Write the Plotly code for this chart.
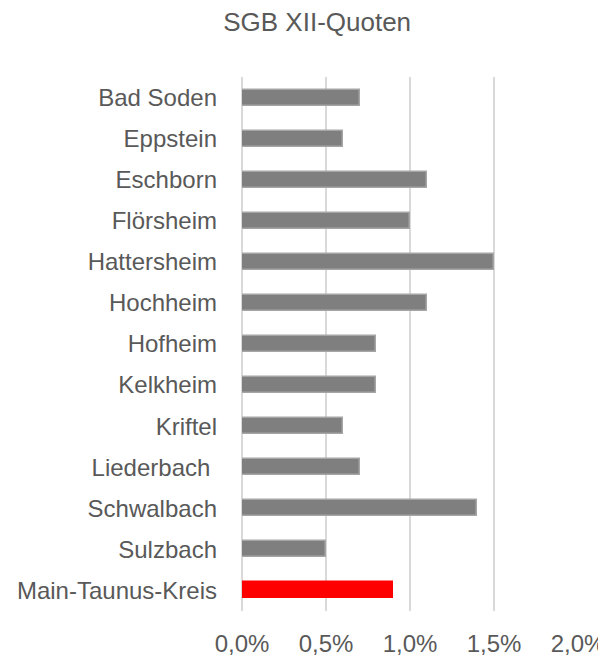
import plotly.graph_objects as go

categories = ["Bad Soden", "Eppstein", "Eschborn", "Flörsheim", "Hattersheim", "Hochheim",
              "Hofheim", "Kelkheim", "Kriftel", "Liederbach ", "Schwalbach", "Sulzbach",
              "Main-Taunus-Kreis"]
values = [0.007, 0.006, 0.011, 0.010, 0.015, 0.011, 0.008, 0.008, 0.006, 0.007, 0.014, 0.005, 0.009]
tick_vals = [0, 0.005, 0.010, 0.015, 0.020]

colors = ["#7f7f7f"] * (len(categories) - 1) + ["#ff0000"]
line_colors = ["#a5a5a5"] * (len(categories) - 1) + ["#ff0000"]

fig = go.Figure(go.Bar(
    y=categories, x=values, orientation="h",
    marker=dict(color=colors, line=dict(color=line_colors, width=1.5)),
    width=0.39,
))

font_color = "#595959"
fig.update_layout(
    width=598, height=651,
    margin=dict(l=234, r=28, t=69, b=48),
    paper_bgcolor="white", plot_bgcolor="white",
    separators=",.",
    font=dict(family="Liberation Sans, Arial, sans-serif", color=font_color, size=24),
    title=dict(text="SGB XII-Quoten", x=0.517, xref="container", xanchor="center",
               y=0.9785, yref="container", yanchor="middle",
               font=dict(size=26, color=font_color)),
    showlegend=False,
    bargap=0,
)
fig.update_xaxes(range=[0, 0.02], tickvals=tick_vals, tickformat=".1%",
                 showgrid=True, gridcolor="#d9d9d9", gridwidth=1.5,
                 zeroline=True, zerolinecolor="#d9d9d9", zerolinewidth=1.5,
                 showline=False, ticks="", ticklabelstandoff=16,
                 automargin=False, tickfont=dict(size=24, color=font_color))
fig.update_yaxes(autorange="reversed", showgrid=False, showline=False, ticks="",
                 ticklabelstandoff=24, automargin=False,
                 tickfont=dict(size=24, color=font_color))

fig.write_html("out.html")
